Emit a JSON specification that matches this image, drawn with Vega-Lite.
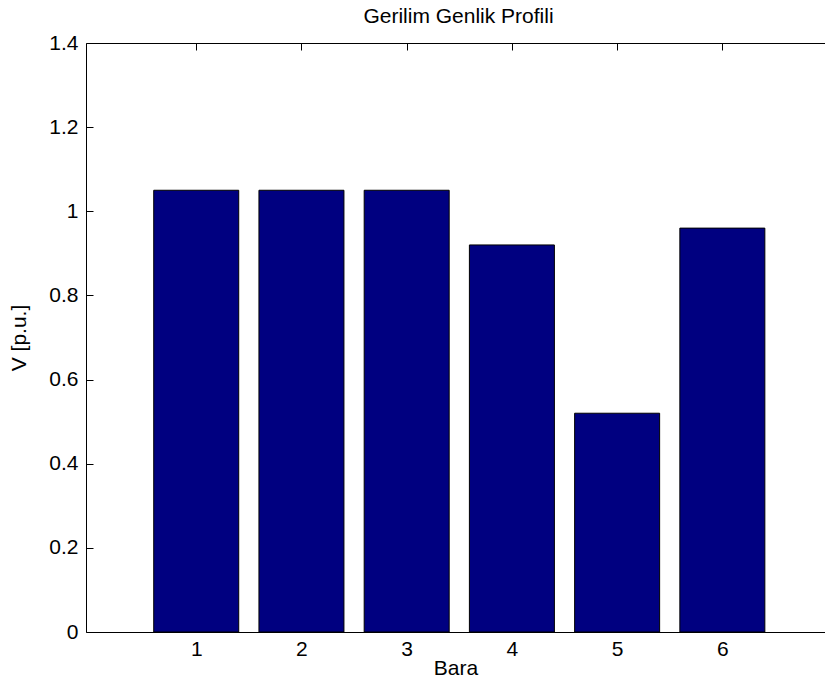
{
  "$schema": "https://vega.github.io/schema/vega-lite/v6.json",
  "autosize": {"type": "none"},
  "padding": {"left": 86, "top": 43, "right": 0, "bottom": 63},
  "width": 739,
  "height": 589,
  "background": "white",
  "title": {"text": "Gerilim Genlik Profili", "fontSize": 21, "fontWeight": "normal", "font": "Liberation Sans", "color": "black", "frame": "group", "baseline": "bottom", "offset": -16, "dx": 3},
  "data": {"values": [
    {"bara": 1, "v": 1.05},
    {"bara": 2, "v": 1.05},
    {"bara": 3, "v": 1.05},
    {"bara": 4, "v": 0.92},
    {"bara": 5, "v": 0.52},
    {"bara": 6, "v": 0.96}
  ]},
  "config": {
    "view": {"stroke": null},
    "axis": {"grid": false, "domainColor": "black", "tickColor": "black", "labelColor": "black", "titleColor": "black", "labelFont": "Liberation Sans", "titleFont": "Liberation Sans", "labelFontSize": 21, "titleFontSize": 21, "titleFontWeight": "normal", "tickSize": -7, "domainWidth": 1, "tickWidth": 1}
  },
  "resolve": {"axis": {"x": "independent"}},
  "layer": [
    {
      "mark": {"type": "bar", "size": 85, "fill": "#000080", "stroke": "#000000", "strokeWidth": 1},
      "encoding": {
        "x": {"field": "bara", "type": "quantitative", "scale": {"domain": [0, 6.928], "nice": false, "zero": false},
              "axis": {"orient": "bottom", "values": [1, 2, 3, 4, 5, 6], "format": "d", "title": "Bara", "labelPadding": 13, "titlePadding": -2}},
        "y": {"field": "v", "type": "quantitative", "scale": {"domain": [0, 1.4], "nice": false},
              "axis": {"values": [0, 0.2, 0.4, 0.6, 0.8, 1, 1.2, 1.4], "format": "~g", "title": "V [p.u.]", "labelPadding": 15, "titlePadding": 19}}
      }
    },
    {
      "mark": {"type": "bar", "size": 85, "opacity": 0},
      "encoding": {
        "x": {"field": "bara", "type": "quantitative", "axis": {"orient": "top", "values": [1, 2, 3, 4, 5, 6], "labels": false, "title": null}},
        "y": {"field": "v", "type": "quantitative"}
      }
    }
  ]
}
